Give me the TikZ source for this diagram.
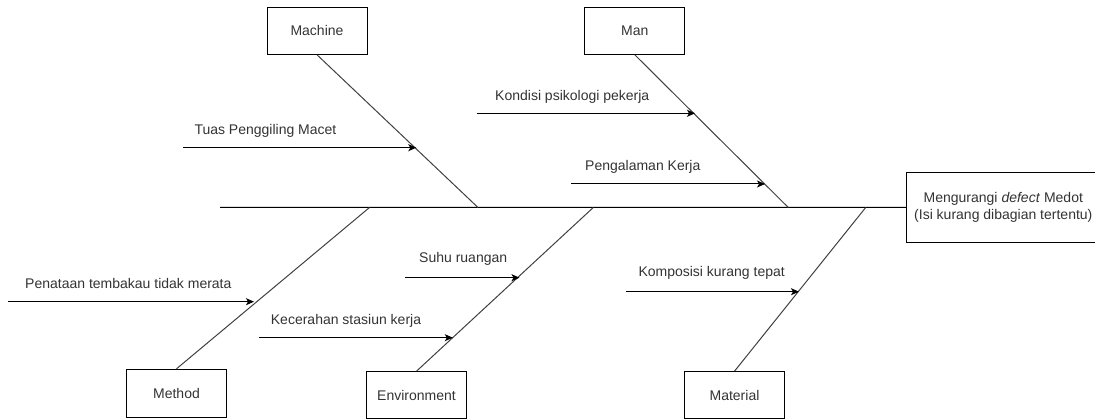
\documentclass[tikz,border=0pt]{standalone}
\usepackage{fontspec}
\setmainfont{Liberation Sans}
\usetikzlibrary{arrows.meta}
\newcommand{\fs}{\fontsize{14}{16.7}\selectfont}
\begin{document}
\begin{tikzpicture}[x=1pt,y=-1pt,
  box/.style={draw=black, line width=1pt, minimum width=100pt, minimum height=47pt, inner sep=0pt, font=\fs, text=black!80},
  bone/.style={draw=black!75, line width=1pt},
  spine/.style={draw=black, line width=1pt},
  cause/.style={draw=black, line width=1pt, -{Stealth[length=8pt,width=7pt,inset=2pt]}},
  lbl/.style={anchor=base west, inner sep=0pt, font=\fs, text=black!80}]
\useasboundingbox (0,0) rectangle (1095,419);
\clip (0,0) rectangle (1095,419);

% category boxes
\node[box] (mach) at (317,30.8) {Machine};
\node[box] (man)  at (634.8,30.8) {Man};
\node[box, minimum height=48pt] (meth) at (176.5,393.3) {Method};
\node[box] (env)  at (416.5,395.2) {Environment};
\node[box] (mat)  at (734.5,395.2) {Material};
\node[draw=black, line width=1pt, minimum width=193.3pt, minimum height=70pt, inner sep=0pt,
      align=center, font=\fs, text=black!80] (res) at (1003.3,207.3)
      {Mengurangi \textit{defect} Medot\\(Isi kurang dibagian tertentu)};

% spine
\coordinate (tail) at (220,207.5);
\draw[spine] (tail) -- (res.west);

% bone points on spine
\coordinate (smach) at (478,207.5);
\coordinate (sman)  at (788.3,207.5);
\coordinate (smeth) at (369.5,207.5);
\coordinate (senv)  at (593.3,207.5);
\coordinate (smat)  at (865.7,207.5);

\draw[bone] (mach.south) -- (smach);
\draw[bone] (man.south) -- (sman);
\draw[bone] (meth.north) -- (smeth);
\draw[bone] (env.north) -- (senv);
\draw[bone] (mat.north) -- (smat);

% cause arrows
\coordinate (c1s) at (183.3,147.7); \coordinate (c1e) at (416.3,147.7);
\coordinate (c2s) at (476.7,113.3); \coordinate (c2e) at (695,113.3);
\coordinate (c3s) at (571,184);     \coordinate (c3e) at (765,184);
\coordinate (c4s) at (8.3,301.7);   \coordinate (c4e) at (254,301.7);
\coordinate (c5s) at (405,277.7);   \coordinate (c5e) at (519.5,277.7);
\coordinate (c6s) at (259.3,337.7); \coordinate (c6e) at (452.8,337.7);
\coordinate (c7s) at (625.7,291.7); \coordinate (c7e) at (799,291.7);

\draw[cause] (c1s) -- (c1e);
\draw[cause] (c2s) -- (c2e);
\draw[cause] (c3s) -- (c3e);
\draw[cause] (c4s) -- (c4e);
\draw[cause] (c5s) -- (c5e);
\draw[cause] (c6s) -- (c6e);
\draw[cause] (c7s) -- (c7e);

% labels
\node[lbl] (l1) at (194.3,134.3) {Tuas Penggiling Macet};
\node[lbl] (l2) at (495,100.7) {Kondisi psikologi pekerja};
\node[lbl] (l3) at (585,170.7) {Pengalaman Kerja};
\node[lbl] (l4) at (25,288.3) {Penataan tembakau tidak merata};
\node[lbl] (l5) at (419,262.3) {Suhu ruangan};
\node[lbl] (l6) at (270.7,324.3) {Kecerahan stasiun kerja};
\node[lbl] (l7) at (638.3,276.7) {Komposisi kurang tepat};
\end{tikzpicture}
\end{document}
